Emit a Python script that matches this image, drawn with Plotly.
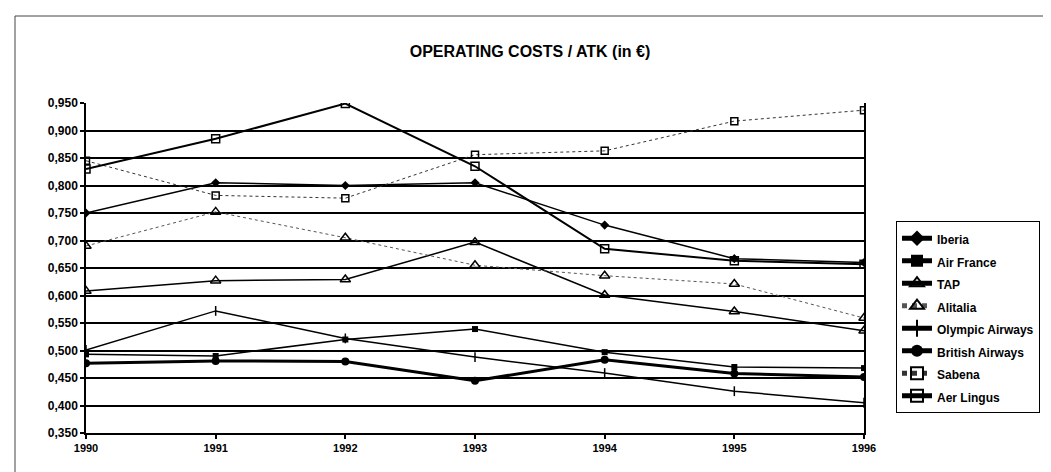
import plotly.graph_objects as go

years = [1990, 1991, 1992, 1993, 1994, 1995, 1996]
iberia = [0.750, 0.805, 0.800, 0.805, 0.728, 0.667, 0.660]
air_france = [0.493, 0.490, 0.520, 0.539, 0.497, 0.470, 0.468]
tap = [0.608, 0.627, 0.629, 0.697, 0.601, 0.571, 0.536]
alitalia = [0.690, 0.752, 0.705, 0.655, 0.636, 0.621, 0.559]
olympic = [0.501, 0.572, 0.522, 0.488, 0.459, 0.426, 0.405]
british = [0.477, 0.481, 0.480, 0.445, 0.483, 0.458, 0.452]
sabena = [0.845, 0.782, 0.777, 0.856, 0.863, 0.917, 0.937]
aer_lingus = [0.830, 0.885, 0.949, 0.835, 0.685, 0.663, 0.657]

y_ticks = [0.35, 0.40, 0.45, 0.50, 0.55, 0.60, 0.65, 0.70, 0.75, 0.80, 0.85, 0.90, 0.95]
title_text = "OPERATING COSTS / ATK (in €)"

series = [
    ("Iberia", iberia, dict(symbol="diamond", size=7, color="black"), dict(color="black", width=1.5)),
    ("Air France", air_france, dict(symbol="square", size=6, color="black"), dict(color="black", width=1.5)),
    ("TAP", tap, dict(symbol="triangle-up-open", size=9, color="black", line=dict(width=1.5)), dict(color="black", width=1.5)),
    ("Alitalia", alitalia, dict(symbol="triangle-up-open", size=9, color="black", line=dict(width=1.5)), dict(color="#555555", width=1, dash="dot")),
    ("Olympic Airways", olympic, dict(symbol="line-ns-open", size=7, color="black", line=dict(width=1.5, color="black")), dict(color="black", width=1.5)),
    ("British Airways", british, dict(symbol="circle", size=8, color="black"), dict(color="black", width=3)),
    ("Sabena", sabena, dict(symbol="square-open", size=7, color="black", line=dict(width=1.5)), dict(color="#333333", width=1, dash="dot")),
    ("Aer Lingus", aer_lingus, dict(symbol="square-open", size=8, color="black", line=dict(width=1.5)), dict(color="black", width=2)),
]

fig = go.Figure()
for name, vals, mk, ln in series:
    fig.add_trace(go.Scatter(x=years, y=vals, name='<span style="font-size:12px">' + name + '</span>',
                             mode="lines+markers", marker=mk, line=ln))

font_family = "Liberation Sans, Arial, sans-serif"

fig.update_layout(
    width=1051, height=472,
    paper_bgcolor="white", plot_bgcolor="white",
    margin=dict(l=78, r=195, t=95, b=47),
    separators=", ",
    font=dict(family=font_family, size=11, color="black"),
    title=dict(text="<b>" + title_text + "</b>", x=522 / 1051, xanchor="center",
               y=1 - 43 / 472, yanchor="middle",
               font=dict(family=font_family, size=16, color="black")),
    showlegend=True,
    legend=dict(x=(888 - 78) / 778, xanchor="left", y=(425 - 213) / 330, yanchor="top",
                bordercolor="black", borderwidth=1, bgcolor="white",
                font=dict(family=font_family, size=15, color="black", weight="bold"),
                tracegroupgap=0, itemsizing="constant"),
    xaxis=dict(range=[1990, 1996], tickmode="array", tickvals=years,
               ticktext=[str(y) for y in years], showgrid=False, zeroline=False,
               showline=True, linecolor="black", linewidth=2,
               ticks="outside", ticklen=4, tickcolor="black", tickwidth=1.5,
               tickfont=dict(family=font_family, size=11, color="black", weight="bold")),
    yaxis=dict(range=[0.35, 0.95], tickmode="array", tickvals=y_ticks,
               tickformat=".3f", showgrid=True, gridcolor="black", gridwidth=1.8,
               zeroline=False, showline=True, linecolor="black", linewidth=1.5,
               mirror=True,
               ticks="outside", ticklen=4, tickcolor="black", tickwidth=1.5,
               tickfont=dict(family=font_family, size=12, color="black", weight="bold")),
    shapes=[
        dict(type="line", xref="paper", yref="paper", x0=(7 - 78) / 778, x1=(7 - 78) / 778,
             y0=(425 - 8) / 330, y1=(425 - 472) / 330, line=dict(color="#444444", width=1)),
        dict(type="line", xref="paper", yref="paper", x0=(7 - 78) / 778, x1=(1049 - 78) / 778,
             y0=(425 - 8) / 330, y1=(425 - 8) / 330, line=dict(color="#444444", width=1)),
    ],
)

fig.write_html("out.html")
